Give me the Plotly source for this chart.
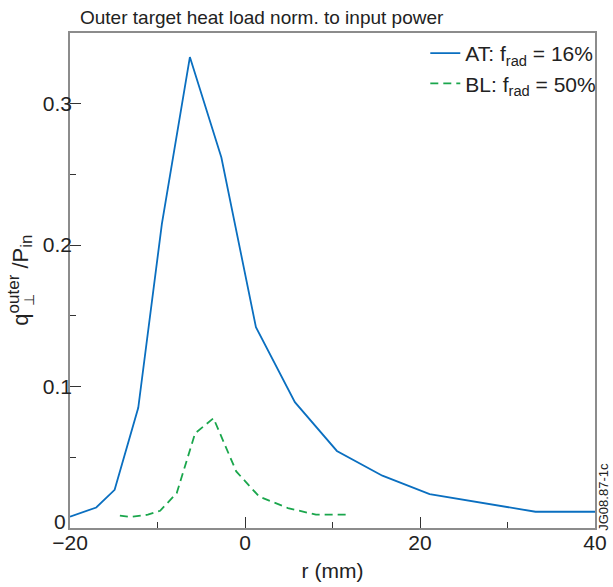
import plotly.graph_objects as go

# values
r_at = [-20, -18.6, -17.0, -14.9, -12.2, -9.5, -6.3, -2.7, 1.25, 5.7, 10.5, 15.7, 21.1, 33.2, 40]
q_at = [0.008, 0.011, 0.0145, 0.027, 0.085, 0.215, 0.333, 0.262, 0.142, 0.089, 0.0545, 0.037, 0.024, 0.0115, 0.0115]

r_bl = [-14.3, -13.1, -11.1, -9.7, -7.8, -5.7, -3.6, -1.0, 1.6, 4.9, 8.1, 11.9]
q_bl = [0.0087, 0.0078, 0.0094, 0.0122, 0.0247, 0.067, 0.0776, 0.040, 0.0223, 0.0141, 0.0094, 0.0094]

y_ticks = [0.1, 0.2, 0.3]
y_ticktext = ['0.1', '0.2', '0.3']

blue = '#0a6fc0'
green = '#1aa64c'
fontsize = 21

fig = go.Figure()
fig.add_trace(go.Scatter(name='AT: f<sub>rad</sub> = 16%', x=r_at, y=q_at, mode='lines',
                         line=dict(color=blue, width=1.8)))
fig.add_trace(go.Scatter(name='BL: f<sub>rad</sub> = 50%', x=r_bl, y=q_bl, mode='lines',
                         line=dict(color=green, width=1.8, dash='8px,5px')))

axis_style = dict(showline=True, linecolor='#8c8c8c', linewidth=1.5, mirror=True,
                  ticks='inside', ticklen=11, tickwidth=1.2, tickcolor='#333',
                  showgrid=False, zeroline=False, automargin=False,
                  tickfont=dict(size=fontsize, color='#222'))

fig.update_xaxes(range=[-20, 40], dtick=20, tick0=0, ticklabelstandoff=-5,
                 minor=dict(dtick=10, ticks='inside', ticklen=6, tickcolor='#333'),
                 title=dict(text='r (mm)', font=dict(size=fontsize, color='#222'), standoff=10),
                 **axis_style)
fig.update_yaxes(range=[0, 0.35], tickvals=y_ticks, ticktext=y_ticktext, ticklabelstandoff=-8,
                 minor=dict(dtick=0.05, ticks='inside', ticklen=6, tickcolor='#333'),
                 **axis_style)

fig.update_layout(width=613, height=587, template='plotly_white',
                  plot_bgcolor='white', paper_bgcolor='white',
                  margin=dict(l=70, r=14, t=33, b=59),
                  font=dict(family='Arial', size=fontsize, color='#222'),
                  showlegend=True,
                  legend=dict(x=1.012, y=1, xanchor='right', yanchor='top', bgcolor='rgba(0,0,0,0)',
                              font=dict(size=21), tracegroupgap=0))

# title
fig.add_annotation(text='Outer target heat load norm. to input power', xref='paper', yref='paper',
                   x=0.015, y=1, xanchor='left', yanchor='bottom', showarrow=False,
                   font=dict(size=19, color='#222'), yshift=3)

# the zero label sits a little above the corner, clear of "-20"
fig.add_annotation(text='0', xref='paper', yref='y', x=0, y=0, xanchor='right', yanchor='middle',
                   showarrow=False, xshift=-2, yshift=7, font=dict(size=fontsize, color='#222'))

# y label (⊥ stacked under the superscript)
fig.add_annotation(text="q<sup><span style='font-size:17px'>outer</span></sup> /P<sub><span style='font-size:17px'>in</span></sub>",
                   xref='paper', yref='paper',
                   x=-0.095, y=0.5, xanchor='center', yanchor='middle', textangle=-90,
                   showarrow=False, font=dict(size=22, color='#222'))
fig.add_annotation(text='⊥', xref='paper', yref='paper',
                   x=-0.078, y=0.46, xanchor='center', yanchor='middle', textangle=-90,
                   showarrow=False, font=dict(size=14, color='#222'))

# figure id
fig.add_annotation(text='JG08.87-1c', xref='paper', yref='paper',
                   x=1.017, y=0.063, xanchor='center', yanchor='middle', textangle=-90,
                   showarrow=False, font=dict(size=13, color='#222'))

fig.write_html("out.html", config={'displayModeBar': False},
               post_script="document.body.style.margin='0';")
